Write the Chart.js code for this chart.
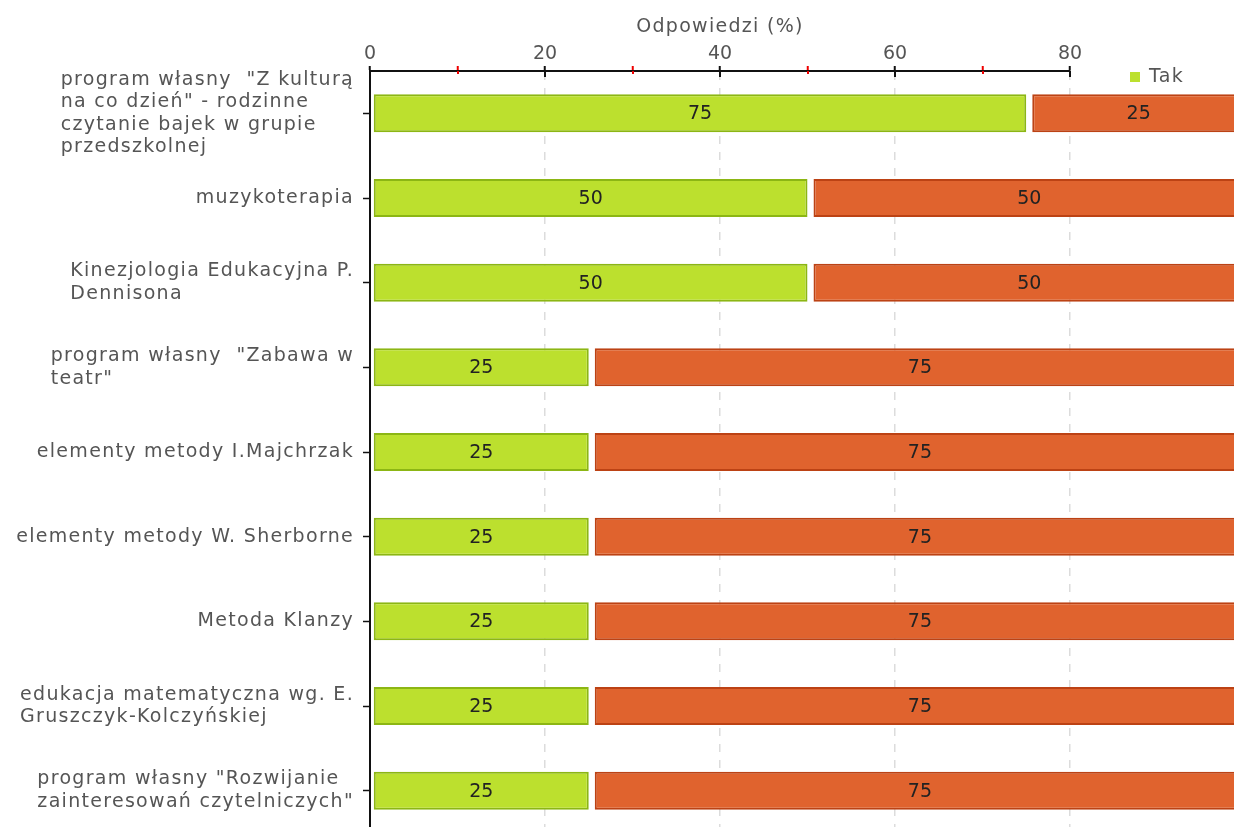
<!DOCTYPE html>
<html>
<head>
<meta charset="utf-8">
<script src="https://cdn.jsdelivr.net/npm/chart.js@4.4.0/dist/chart.umd.min.js"></script>
<style>
  html, body { margin: 0; padding: 0; background: #fff; overflow: hidden; }
  #wrap { width: 1234px; height: 833px; }
</style>
</head>
<body>
<div id="wrap"><canvas id="chart" width="1234" height="833"></canvas></div>
<script>
// category labels, already wrapped the way the original shows them
const categories = [
  ['program własny  "Z kulturą', 'na co dzień" - rodzinne', 'czytanie bajek w grupie', 'przedszkolnej'],
  ['muzykoterapia'],
  ['Kinezjologia Edukacyjna P.', 'Dennisona'],
  ['program własny  "Zabawa w', 'teatr"'],
  ['elementy metody I.Majchrzak'],
  ['elementy metody W. Sherborne'],
  ['Metoda Klanzy'],
  ['edukacja matematyczna wg. E.', 'Gruszczyk-Kolczyńskiej'],
  ['program własny "Rozwijanie', 'zainteresowań czytelniczych"']
];
const seriesNames = ['Tak', 'Nie'];
const takValues = [75, 50, 50, 25, 25, 25, 25, 25, 25];
const nieValues = [25, 50, 50, 75, 75, 75, 75, 75, 75];
const xTicks = [0, 20, 40, 60, 80];
const axisTitle = 'Odpowiedzi (%)';

const FONT = '"DejaVu Sans", Verdana, sans-serif';
const SPACING = '1.3px';
const fills = ['rgb(188,224,46)', 'rgb(224,99,46)'];
const borders = ['rgb(140,182,20)', 'rgb(188,66,20)'];
const startGap = [3, 6];

// small white gap at the start of every segment, like the original
const segmentGap = {
  id: 'segmentGap',
  afterDatasetsUpdate(chart) {
    chart.data.datasets.forEach((ds, i) => {
      chart.getDatasetMeta(i).data.forEach(bar => {
        bar.base += startGap[i];
      });
    });
  }
};

// value text in the middle of each bar
const barLabels = {
  id: 'barLabels',
  afterDatasetsDraw(chart) {
    const ctx = chart.ctx;
    ctx.save();
    ctx.font = '19px ' + FONT;
    ctx.fillStyle = '#222';
    ctx.textAlign = 'center';
    ctx.textBaseline = 'middle';
    chart.data.datasets.forEach((ds, i) => {
      chart.getDatasetMeta(i).data.forEach((bar, j) => {
        ctx.fillText(String(ds.data[j]), (bar.x + bar.base) / 2, bar.y + 1);
      });
    });
    ctx.restore();
  }
};

// y labels (left aligned lines in a right aligned block), axis title, tick stubs under the axis
const extras = {
  id: 'extras',
  afterDraw(chart) {
    const ctx = chart.ctx;
    const a = chart.chartArea;
    const x = chart.scales.x;
    const y = chart.scales.y;
    const lh = 22.5;
    ctx.save();
    ctx.letterSpacing = SPACING;
    ctx.font = '19px ' + FONT;
    ctx.fillStyle = '#555';
    ctx.textAlign = 'left';
    ctx.textBaseline = 'middle';
    categories.forEach((lines, i) => {
      const w = Math.max(...lines.map(l => ctx.measureText(l).width));
      const x0 = a.left - 16 - w;
      const cy = y.getPixelForTick(i);
      lines.forEach((l, k) => {
        ctx.fillText(l, x0, cy + (k - (lines.length - 1) / 2) * lh);
      });
    });
    ctx.textAlign = 'center';
    ctx.fillText(axisTitle, (a.left + a.right) / 2, 27);

    ctx.lineWidth = 2;
    x.ticks.forEach(t => {
      const major = t.value % 20 === 0;
      const px = Math.round(x.getPixelForValue(t.value));
      ctx.strokeStyle = major ? '#111' : '#e00';
      ctx.beginPath();
      ctx.moveTo(px, a.top);
      ctx.lineTo(px, a.top + (major ? 6 : 3));
      ctx.stroke();
    });
    ctx.restore();
  }
};

// legend sits right of the plot, under the bars that run past the axis end
const sideLegend = {
  id: 'sideLegend',
  beforeDatasetsDraw(chart) {
    const ctx = chart.ctx;
    const a = chart.chartArea;
    ctx.save();
    ctx.letterSpacing = SPACING;
    ctx.font = '19px ' + FONT;
    ctx.textBaseline = 'middle';
    chart.data.datasets.forEach((ds, i) => {
      const lx = a.right + 60;
      const ly = a.top + 6 + i * 36;
      ctx.fillStyle = ds.backgroundColor;
      ctx.fillRect(lx, ly - 5, 10, 10);
      ctx.fillStyle = '#555';
      ctx.fillText(ds.label, lx + 19, ly);
    });
    ctx.restore();
  }
};

new Chart(document.getElementById('chart'), {
  type: 'bar',
  data: {
    labels: categories.map(c => c.join(' ')),
    datasets: [
      { label: seriesNames[0], data: takValues, backgroundColor: fills[0], borderColor: borders[0] },
      { label: seriesNames[1], data: nieValues, backgroundColor: fills[1], borderColor: borders[1] }
    ]
  },
  options: {
    indexAxis: 'y',
    responsive: false,
    animation: false,
    devicePixelRatio: 1,
    layout: { padding: { left: 0, right: 164, top: 0, bottom: 0 } },
    datasets: {
      bar: {
        barThickness: 38,
        inflateAmount: 0,
        borderWidth: 2,
        borderSkipped: false,
        clip: false
      }
    },
    plugins: {
      legend: { display: false },
      tooltip: { enabled: false }
    },
    scales: {
      x: {
        position: 'top',
        stacked: true,
        min: 0,
        max: 80,
        afterFit: s => { s.height = 71; },
        afterBuildTicks: s => { s.ticks = [0, 10, 20, 30, 40, 50, 60, 70, 80].map(v => ({ value: v })); },
        ticks: {
          autoSkip: false,
          maxRotation: 0,
          padding: 1,
          color: '#555',
          font: { family: FONT, size: 19 },
          callback: v => (xTicks.includes(v) ? String(v) : '')
        },
        grid: {
          color: c => (c.tick && c.tick.value % 20 === 0 && c.tick.value > 0 ? '#dcdcdc' : 'rgba(0,0,0,0)'),
          lineWidth: 1.5,
          tickColor: c => (c.tick && c.tick.value % 20 === 0 ? '#111' : '#e00'),
          tickWidth: 2,
          tickLength: 5
        },
        border: { display: true, color: '#111', width: 2, dash: [8, 8] },
        title: { display: false }
      },
      y: {
        stacked: true,
        afterFit: s => { s.width = 370; },
        ticks: { display: false },
        grid: {
          offset: false,
          drawOnChartArea: false,
          tickColor: '#111',
          tickWidth: 1.5,
          tickLength: 7
        },
        border: { display: true, color: '#111', width: 2 }
      }
    }
  },
  plugins: [segmentGap, sideLegend, barLabels, extras]
});
</script>
</body>
</html>
